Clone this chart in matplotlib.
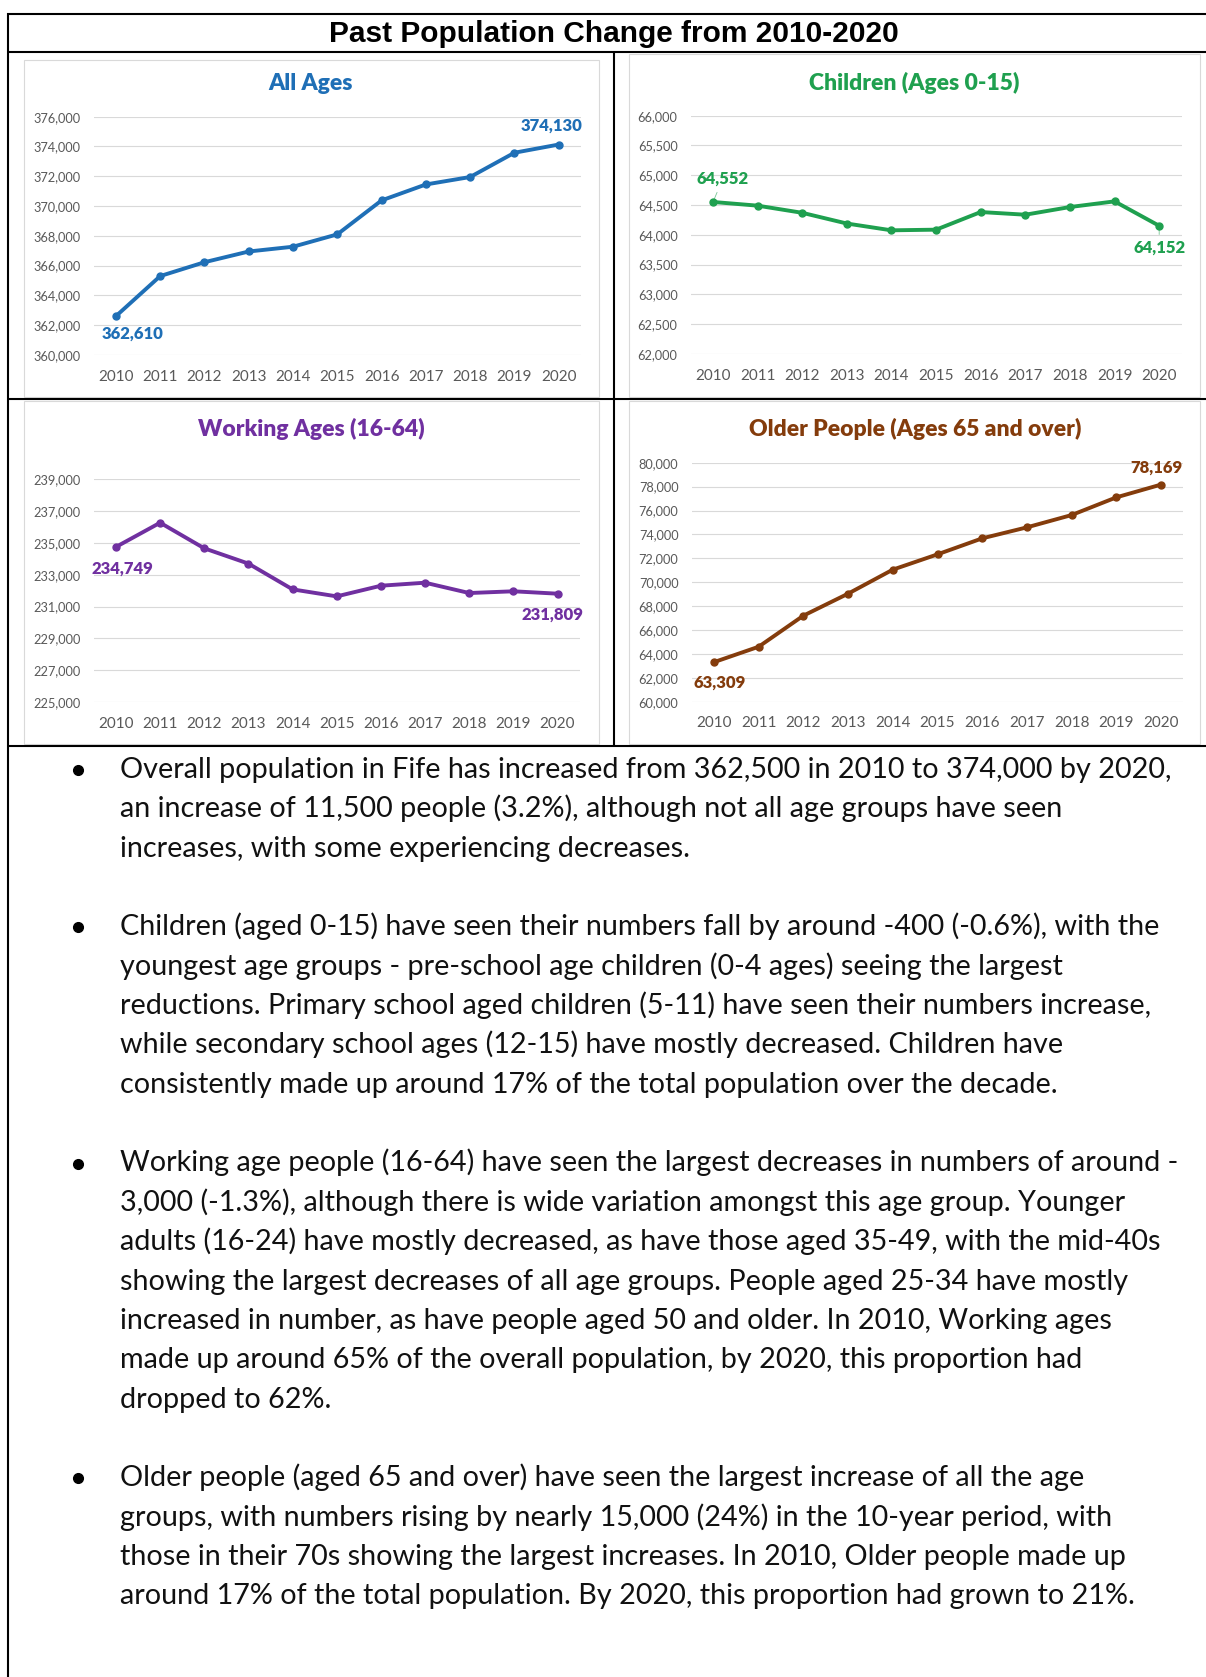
import matplotlib
matplotlib.use("Agg")
import matplotlib.pyplot as plt
from matplotlib.lines import Line2D
from matplotlib.patches import Rectangle
from matplotlib.ticker import FuncFormatter, FixedLocator

# ---------------- data ----------------
years = ["2010", "2011", "2012", "2013", "2014", "2015", "2016", "2017", "2018", "2019", "2020"]

all_ages = [362610, 365300, 366230, 366950, 367270, 368100, 370380, 371450, 371950, 373580, 374130]
children = [64552, 64490, 64370, 64190, 64076, 64087, 64383, 64338, 64467, 64562, 64152]
working = [234749, 236270, 234660, 233700, 232080, 231640, 232310, 232500, 231850, 231960, 231809]
older = [63309, 64600, 67200, 69040, 71050, 72330, 73670, 74590, 75620, 77100, 78169]

chart_titles = ["All Ages", "Children (Ages 0-15)", "Working Ages (16-64)",
                "Older People (Ages 65 and over)"]
y_min = [360000, 62000, 225000, 60000]
y_max = [376000, 66000, 239000, 80000]
y_step = [2000, 500, 2000, 2000]

main_title = "Past Population Change from 2010-2020"

bullets = [
    ["Overall population in Fife has increased from 362,500 in 2010 to 374,000 by 2020,",
     "an increase of 11,500 people (3.2%), although not all age groups have seen",
     "increases, with some experiencing decreases."],
    ["Children (aged 0-15) have seen their numbers fall by around -400 (-0.6%), with the",
     "youngest age groups - pre-school age children (0-4 ages) seeing the largest",
     "reductions. Primary school aged children (5-11) have seen their numbers increase,",
     "while secondary school ages (12-15) have mostly decreased. Children have",
     "consistently made up around 17% of the total population over the decade."],
    ["Working age people (16-64) have seen the largest decreases in numbers of around -",
     "3,000 (-1.3%), although there is wide variation amongst this age group. Younger",
     "adults (16-24) have mostly decreased, as have those aged 35-49, with the mid-40s",
     "showing the largest decreases of all age groups. People aged 25-34 have mostly",
     "increased in number, as have people aged 50 and older. In 2010, Working ages",
     "made up around 65% of the overall population, by 2020, this proportion had",
     "dropped to 62%."],
    ["Older people (aged 65 and over) have seen the largest increase of all the age",
     "groups, with numbers rising by nearly 15,000 (24%) in the 10-year period, with",
     "those in their 70s showing the largest increases. In 2010, Older people made up",
     "around 17% of the total population. By 2020, this proportion had grown to 21%."],
]

# ---------------- layout helpers ----------------
W, H, DPI = 1206, 1677, 100
fig = plt.figure(figsize=(W / DPI, H / DPI), dpi=DPI)
fig.patch.set_facecolor("white")


def fx(x):
    return x / W


def fy(y):
    return 1 - y / H


def hline(x0, x1, y, color="black", lw=1.5):
    fig.add_artist(Line2D([fx(x0), fx(x1)], [fy(y), fy(y)], color=color, lw=lw,
                          transform=fig.transFigure, solid_capstyle="butt"))


def vline(x, y0, y1, color="black", lw=1.5):
    fig.add_artist(Line2D([fx(x), fx(x)], [fy(y0), fy(y1)], color=color, lw=lw,
                          transform=fig.transFigure, solid_capstyle="butt"))


def panel(x0, y0, x1, y1):
    fig.add_artist(Rectangle((fx(x0), fy(y1)), fx(x1) - fx(x0), fy(y0) - fy(y1),
                             transform=fig.transFigure, facecolor="white",
                             edgecolor="#d9d9d9", lw=0.8, zorder=0))


# chart panels (light boxes)
panel(24, 60, 599, 397)
panel(629, 54, 1200, 397)
panel(24, 401, 599, 744)
panel(629, 401, 1200, 744)

# dark table borders
hline(7, W, 14)
hline(7, W, 52)
hline(7, W, 398.5)
hline(7, W, 746)
vline(8, 13, H)
vline(614, 52, 746)

fig.text(fx(614), fy(34), main_title, ha="center", va="center",
         fontsize=21.5, fontweight="bold", family=["Liberation Sans", "DejaVu Sans"])

colors = ["#1f6fb6", "#1fa04f", "#7030a0", "#843c0c"]
series = [all_ages, children, working, older]

# axes boxes: left, right, top, bottom (px)
boxes = [(93.8, 580.8, 116.7, 355.0),
         (690.7, 1181.5, 115.7, 354.0),
         (93.9, 579.6, 479.3, 702.0),
         (691.6, 1183.4, 462.7, 701.7)]
title_pos = [(311, 83), (914, 83), (311, 429), (915, 429)]

# label offsets (points) for first and last point
first_off = [(12, -13), (7, 16.5), (5, -16), (4, -14.5)]
last_off = [(-5, 13.5), (0, -16), (-3.5, -15), (-3, 12.5)]
leader = [False, True, False, False]

body_font = ["Lato", "DejaVu Sans"]
xs = list(range(len(years)))

for i in range(4):
    l, r, t, b = boxes[i]
    ax = fig.add_axes([fx(l), fy(b), fx(r) - fx(l), fy(t) - fy(b)])
    ax.set_facecolor("none")
    c = colors[i]
    ax.plot(xs, series[i], color=c, lw=2.8, marker="o", ms=5, zorder=3,
            solid_capstyle="round", solid_joinstyle="round")
    ax.set_xlim(-0.5, len(years) - 0.5)
    ax.set_ylim(y_min[i], y_max[i])
    ax.yaxis.set_major_locator(FixedLocator(list(range(y_min[i], y_max[i] + 1, y_step[i]))))
    ax.yaxis.set_major_formatter(FuncFormatter(lambda v, p: f"{v:,.0f}"))
    ax.set_xticks(xs)
    ax.set_xticklabels(years)
    ax.grid(axis="y", color="#d9d9d9", lw=0.8)
    ax.set_axisbelow(True)
    for s in ax.spines.values():
        s.set_visible(False)
    ax.tick_params(axis="y", length=0, pad=9.5, labelsize=9.2, labelcolor="#595959")
    ax.tick_params(axis="x", length=0, pad=10.5, labelsize=11, labelcolor="#595959")
    for lab in ax.get_xticklabels() + ax.get_yticklabels():
        lab.set_family(body_font)

    ap = dict(arrowstyle="-", color=c, lw=0.6, alpha=0.6, shrinkA=2, shrinkB=1) if leader[i] else None
    ax.annotate(f"{series[i][0]:,}", (xs[0], series[i][0]), xytext=first_off[i],
                textcoords="offset points", ha="center", va="center", color=c,
                fontsize=12, fontweight=800, family=body_font, arrowprops=ap,
                annotation_clip=False)
    ax.annotate(f"{series[i][-1]:,}", (xs[-1], series[i][-1]), xytext=last_off[i],
                textcoords="offset points", ha="center", va="center", color=c,
                fontsize=12, fontweight=800, family=body_font, arrowprops=ap,
                annotation_clip=False)

    tx, ty = title_pos[i]
    fig.text(fx(tx), fy(ty), chart_titles[i], ha="center", va="center", color=c,
             fontsize=16.5, fontweight=800, family=body_font)

# ---------------- body text ----------------
base = 778.0
step = 39.35
text_x = 120
target_w = 1054.0

probe = fig.text(0, 0, bullets[0][0], fontsize=20, family=body_font)
fig.canvas.draw()
w = probe.get_window_extent(renderer=fig.canvas.get_renderer()).width
probe.remove()
body_size = 20 * target_w / w

line = 0
for bi, para in enumerate(bullets):
    y_first = base + line * step
    fig.add_artist(Line2D([fx(78)], [fy(y_first - 8)], marker="o", ms=7, color="black",
                          transform=fig.transFigure, lw=0))
    for txt in para:
        y = base + line * step
        fig.text(fx(text_x), fy(y), txt, ha="left", va="baseline", fontsize=body_size,
                 family=body_font, color="#111111")
        line += 1
    line += 1

fig.savefig("out.png", dpi=DPI, facecolor="white")
